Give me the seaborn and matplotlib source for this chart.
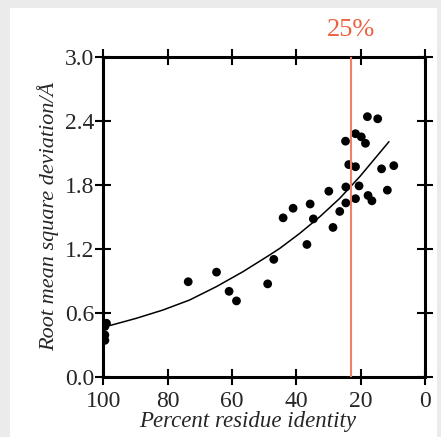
import numpy as np
import pandas as pd
import matplotlib
matplotlib.use("Agg")
import matplotlib.pyplot as plt
import seaborn as sns
from matplotlib.patches import Rectangle
import matplotlib.transforms as mtransforms

# Data
identity = [99.0, 99.5, 99.5, 99.5,
            73.6, 64.8, 60.9, 58.6, 48.9, 47.0,
            44.1, 41.0, 36.7, 35.7, 34.7, 29.9, 28.6, 26.5,
            24.7, 24.6, 24.6, 23.7, 21.6, 21.6, 21.6, 20.5,
            19.8, 18.5, 17.9, 17.7, 16.5, 14.7, 13.5, 11.7, 9.7]
rmsd = [0.50, 0.47, 0.39, 0.34,
        0.89, 0.98, 0.80, 0.71, 0.87, 1.10,
        1.49, 1.58, 1.24, 1.62, 1.48, 1.74, 1.40, 1.55,
        2.21, 1.78, 1.63, 1.99, 2.28, 1.97, 1.67, 1.79,
        2.25, 2.19, 2.44, 1.70, 1.65, 2.42, 1.95, 1.75, 1.98]

# fitted curve, points
curve_x = [97.8, 89.8, 81.5, 73.2, 64.9, 56.6, 48.3, 45.1, 38.9, 32.7, 26.5, 20.3, 15.1, 11.2]
curve_y = [0.48, 0.546, 0.624, 0.718, 0.843, 0.984, 1.141, 1.204, 1.345, 1.50, 1.673, 1.876, 2.064, 2.205]

cutoff = 23
cutoff_label = "25%"

x_ticks = [100, 80, 60, 40, 20, 0]
y_ticks = [0.0, 0.6, 1.2, 1.8, 2.4, 3.0]

points = pd.DataFrame({"identity": identity, "rmsd": rmsd})
curve = pd.DataFrame({"identity": curve_x, "rmsd": curve_y})

sns.set_style("white")
plt.rcParams["font.family"] = ["Liberation Serif", "DejaVu Serif"]

fig = plt.figure(figsize=(4.41, 4.37), dpi=100)
fig.patch.set_facecolor("#ebebeb")
fig.patches.append(Rectangle((10 / 441, 0), 1 - 14 / 441, 1 - 8 / 437,
                             transform=fig.transFigure, facecolor="white",
                             edgecolor="none", zorder=-10))

ax = fig.add_axes([0.2342, 0.1384, 0.7295, 0.7311])
ax.set_facecolor("white")

sns.scatterplot(data=points, x="identity", y="rmsd", ax=ax, color="black",
                s=40, edgecolor="none", zorder=3)
sns.lineplot(data=curve, x="identity", y="rmsd", ax=ax, color="black",
             linewidth=1.1, sort=False, zorder=2)
ax.axvline(cutoff, color="#f08068", linewidth=1.5, zorder=4)

trans = mtransforms.blended_transform_factory(ax.transData, ax.transAxes)
ax.text(cutoff, 1.085, cutoff_label, transform=trans, ha="center", va="center",
        color="#ee5f3f", fontsize=19)

ax.set_xlim(100, 0)
ax.set_ylim(0, 3.0)
ax.set_xticks(x_ticks)
ax.set_xticklabels([str(t) for t in x_ticks])
ax.set_yticks(y_ticks)
ax.set_yticklabels([f"{t:.1f}" for t in y_ticks])

for side in ["top", "right", "bottom", "left"]:
    ax.spines[side].set_visible(True)
    ax.spines[side].set_color("black")
    ax.spines[side].set_linewidth(2.2)

ax.tick_params(axis="both", which="major", direction="inout", length=11,
               width=1.5, color="black", top=True, right=True,
               bottom=True, left=True, labelsize=17)
ax.tick_params(axis="x", pad=5)
ax.tick_params(axis="y", pad=1)

ax.set_xlabel("Percent residue identity", fontsize=16.5, style="italic", va="center")
ax.xaxis.set_label_coords(0.45, -0.14)
ax.set_ylabel("Root mean square deviation/Å", fontsize=16, style="italic", labelpad=4)

fig.savefig("out.png", dpi=100, facecolor=fig.get_facecolor())
